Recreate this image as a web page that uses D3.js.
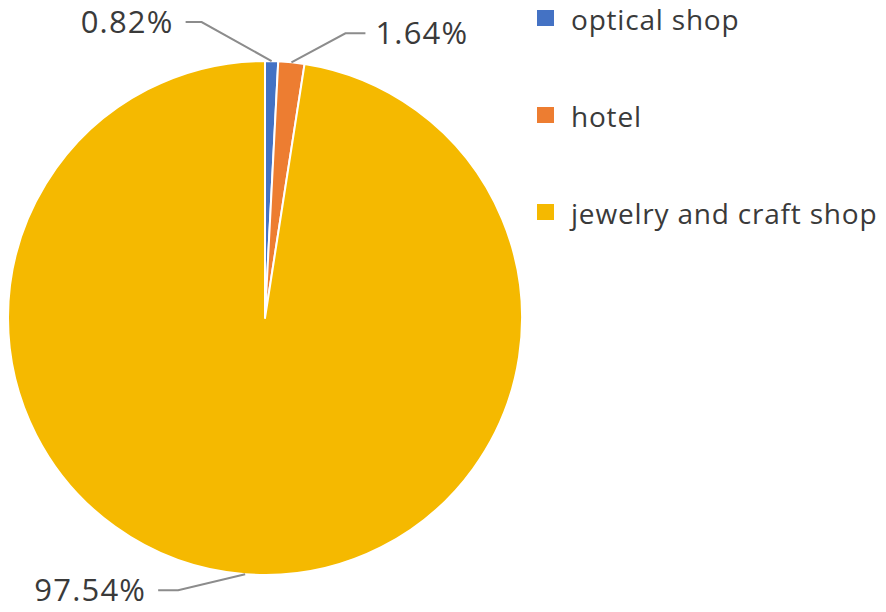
<!DOCTYPE html>
<html><head><meta charset="utf-8">
<script src="https://cdn.jsdelivr.net/npm/d3@7"></script>
<style>body{margin:0;background:#fff;}svg{display:block;}</style>
</head><body>
<script>
const categories = ["optical shop", "hotel", "jewelry and craft shop"];
const values = [0.82, 1.64, 97.54];
const labels = ["0.82%", "1.64%", "97.54%"];
const colors = ["#4472C4", "#ED7D31", "#F5B900"];

const W = 886, H = 612;
const cx = 265, cy = 318, R = 257;
const svg = d3.select("body").append("svg").attr("width", W).attr("height", H);
const font = "'Open Sans', sans-serif";

const pie = d3.pie().sort(null).value(d => d)(values);
const arc = d3.arc().innerRadius(0).outerRadius(R);
const g = svg.append("g").attr("transform", `translate(${cx},${cy})`);
g.selectAll("path").data(pie).join("path")
  .attr("d", arc).attr("fill", (d, i) => colors[i])
  .attr("stroke", "#fff").attr("stroke-width", 2).attr("stroke-linejoin", "round");

// leader line offsets (elbow, end) relative to arc edge point; text side
const leaders = [
  {elbow: [-70, -39], end: [-86, -39], side: -1},
  {elbow: [54, -29], end: [74, -29], side: 1},
  {elbow: [-67, 16], end: [-87, 16], side: -1}
];
pie.forEach((d, i) => {
  const a = (d.startAngle + d.endAngle) / 2;
  const px = Math.sin(a) * R, py = -Math.cos(a) * R;
  const L = leaders[i];
  const e = [px + L.elbow[0], py + L.elbow[1]];
  const t = [px + L.end[0], py + L.end[1]];
  g.append("path").attr("d", d3.line()([[px, py], e, t]))
    .attr("fill", "none").attr("stroke", "#8c8c8c").attr("stroke-width", 2);
  g.append("text").attr("x", t[0] + L.side * (L.side < 0 ? 12 : 10)).attr("y", t[1])
    .attr("dy", "0.35em").attr("text-anchor", L.side < 0 ? "end" : "start")
    .attr("font-family", font).attr("font-size", 31).attr("letter-spacing", 1.2)
    .attr("fill", "#3a3a3a")
    .text(labels[i]);
});

// legend (baselines)
const legendY = d3.scalePoint().domain(categories).range([30, 224]);
const lg = svg.append("g");
categories.forEach((c, i) => {
  const y = legendY(c);
  lg.append("rect").attr("x", 537).attr("y", y - 20).attr("width", 17).attr("height", 16)
    .attr("fill", colors[i]);
  lg.append("text").attr("x", 571).attr("y", y)
    .attr("font-family", font).attr("font-size", 28).attr("letter-spacing", 0.8)
    .attr("fill", "#3a3a3a").text(c);
});
</script>
</body></html>
